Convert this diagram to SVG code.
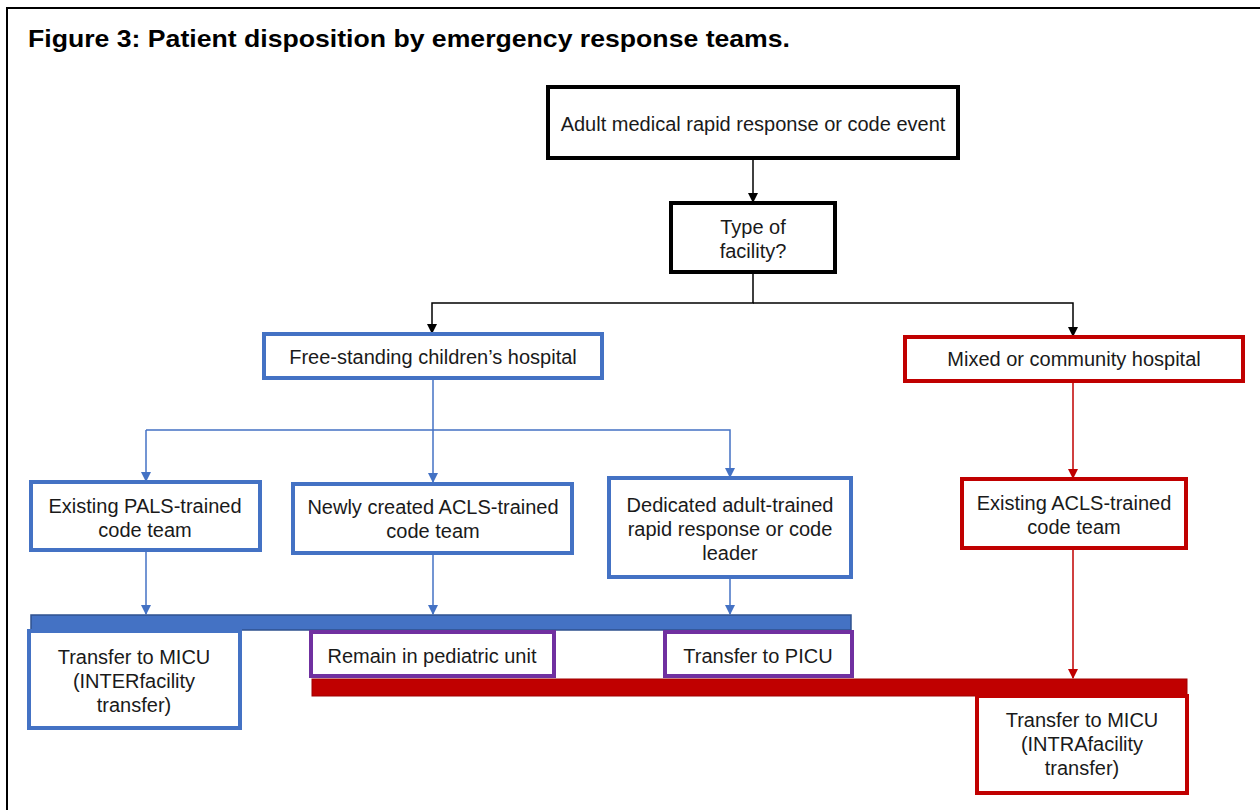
<svg xmlns="http://www.w3.org/2000/svg" width="1260" height="810" viewBox="0 0 1260 810">
<style>
text{font-family:"Liberation Sans",Arial,sans-serif;font-size:20px;fill:#1a1a1a;text-anchor:middle}
.title{font-weight:bold;font-size:24px;text-anchor:start;fill:#000}
.blk{fill:#fff;stroke:#000;stroke-width:4}
.blu{fill:#fff;stroke:#4472C4;stroke-width:4}
.red{fill:#fff;stroke:#C00000;stroke-width:4}
.pur{fill:#fff;stroke:#7030A0;stroke-width:4}
.ck{fill:none;stroke:#000;stroke-width:1.5}
.cb{fill:none;stroke:#4472C4;stroke-width:1.5}
.cr{fill:none;stroke:#C00000;stroke-width:1.5}
</style>
<defs>
<marker id="ak" markerWidth="10" markerHeight="10" refX="9" refY="5" orient="auto" markerUnits="userSpaceOnUse"><path d="M0,0 L10,5 L0,10 z" fill="#000"/></marker>
<marker id="ab" markerWidth="10" markerHeight="10" refX="9" refY="5" orient="auto" markerUnits="userSpaceOnUse"><path d="M0,0 L10,5 L0,10 z" fill="#4472C4"/></marker>
<marker id="ar" markerWidth="10" markerHeight="10" refX="9" refY="5" orient="auto" markerUnits="userSpaceOnUse"><path d="M0,0 L10,5 L0,10 z" fill="#C00000"/></marker>
</defs>
<rect width="1260" height="810" fill="#fff"/>
<path d="M7,810 V8 H1260" fill="none" stroke="#000" stroke-width="2"/>
<text class="title" x="28" y="47" textLength="762" lengthAdjust="spacingAndGlyphs">Figure 3: Patient disposition by emergency response teams.</text>

<g id="connectors">
<path class="ck" d="M753,158 V202" marker-end="url(#ak)"/>
<path class="ck" d="M753,272 V303 H432 V333" marker-end="url(#ak)"/>
<path class="ck" d="M753,303 H1073 V336" marker-end="url(#ak)"/>
<path class="cb" d="M433,378 V482" marker-end="url(#ab)"/>
<path class="cb" d="M146,430 H730 V477" marker-end="url(#ab)"/>
<path class="cb" d="M146,430 V481" marker-end="url(#ab)"/>
<path class="cb" d="M146,550 V614" marker-end="url(#ab)"/>
<path class="cb" d="M433,553 V614" marker-end="url(#ab)"/>
<path class="cb" d="M730,577 V614" marker-end="url(#ab)"/>
<path class="cr" d="M1073,381 V478" marker-end="url(#ar)"/>
<path class="cr" d="M1073,548 V678" marker-end="url(#ar)"/>
</g>

<g id="n-event"><rect class="blk" x="548" y="87" width="410" height="71"/><text x="753" y="131">Adult medical rapid response or code event</text></g>
<g id="n-type"><rect class="blk" x="671" y="203" width="164" height="69"/><text x="753" y="234">Type of</text><text x="753" y="258">facility?</text></g>
<g id="n-children"><rect class="blu" x="264" y="334" width="338" height="44"/><text x="433" y="364">Free-standing children’s hospital</text></g>
<g id="n-mixed"><rect class="red" x="905" y="337" width="338" height="44"/><text x="1074" y="366">Mixed or community hospital</text></g>
<g id="n-pals"><rect class="blu" x="31" y="482" width="229" height="68"/><text x="145" y="513">Existing PALS-trained</text><text x="145" y="537">code team</text></g>
<g id="n-newly"><rect class="blu" x="293" y="484" width="279" height="69"/><text x="433" y="514">Newly created ACLS-trained</text><text x="433" y="538">code team</text></g>
<g id="n-dedicated"><rect class="blu" x="609" y="478" width="242" height="99"/><text x="730" y="512">Dedicated adult-trained</text><text x="730" y="536">rapid response or code</text><text x="730" y="560">leader</text></g>
<g id="n-acls"><rect class="red" x="962" y="479" width="224" height="69"/><text x="1074" y="510">Existing ACLS-trained</text><text x="1074" y="534">code team</text></g>
<g id="bar-blue"><rect x="31" y="615" width="820" height="15" fill="#4472C4" stroke="#2F528F" stroke-width="1.5"/></g>
<g id="n-inter"><rect class="blu" x="29" y="631" width="211" height="97"/><text x="134" y="664">Transfer to MICU</text><text x="134" y="688">(INTERfacility</text><text x="134" y="712">transfer)</text></g>
<g id="n-remain"><rect class="pur" x="311" y="632" width="243" height="44"/><text x="432" y="663">Remain in pediatric unit</text></g>
<g id="n-picu"><rect class="pur" x="665" y="632" width="187" height="44"/><text x="758" y="663">Transfer to PICU</text></g>
<g id="bar-red"><rect x="312" y="679" width="875" height="17" fill="#C00000" stroke="#A00000" stroke-width="1"/></g>
<g id="n-intra"><rect class="red" x="977" y="696" width="210" height="97"/><text x="1082" y="727">Transfer to MICU</text><text x="1082" y="751">(INTRAfacility</text><text x="1082" y="775">transfer)</text></g>
</svg>
